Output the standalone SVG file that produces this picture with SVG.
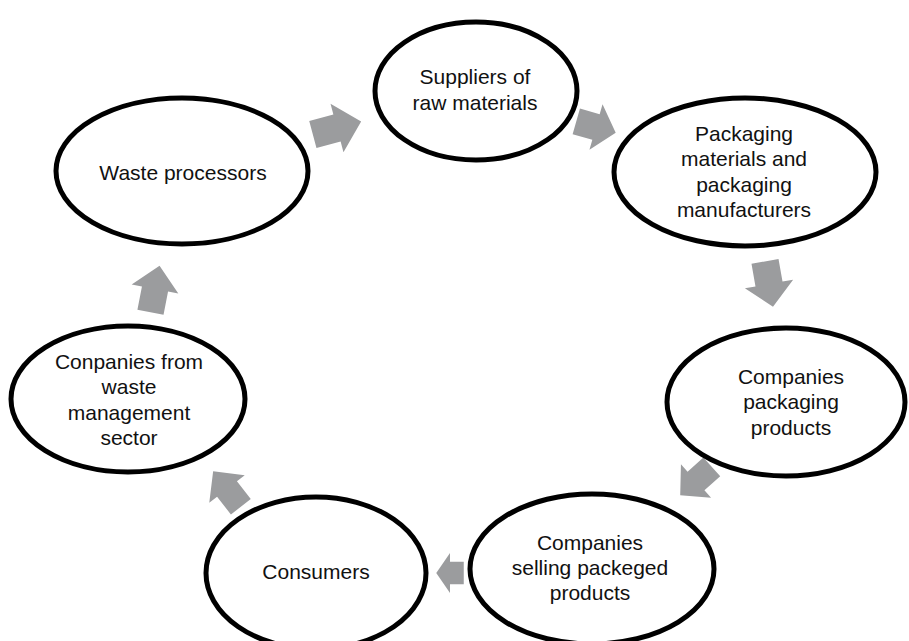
<svg xmlns="http://www.w3.org/2000/svg" width="909" height="641" viewBox="0 0 909 641">
<style>
.n{fill:#fff;stroke:#000;stroke-width:5}
.t{font-family:"Liberation Sans",Arial,sans-serif;font-size:21px;fill:#111;text-anchor:middle}
.a{fill:#9b9c9e}
</style>
<defs>
<polygon id="arr" points="-25,-14 0,-14 0,-25 25,0 0,25 0,14 -25,14"/>
</defs>
<rect width="909" height="641" fill="#fff"/>
<g id="connectors">
<use href="#arr" class="a" transform="translate(337,128) rotate(-15)"/>
<use href="#arr" class="a" transform="translate(596,127) rotate(16) scale(0.82,0.95)"/>
<use href="#arr" class="a" transform="translate(769,284) rotate(80) scale(0.92,0.98)"/>
<use href="#arr" class="a" transform="translate(696,481) rotate(138) scale(0.85,0.9)"/>
<use href="#arr" class="a" transform="translate(450,573) rotate(180) scale(0.55,0.8)"/>
<use href="#arr" class="a" transform="translate(227,489) rotate(-128) scale(0.9,0.9)"/>
<use href="#arr" class="a" transform="translate(155,289) rotate(-79) scale(0.95,0.95)"/>
</g>
<g id="suppliers">
<ellipse class="n" cx="476" cy="91" rx="101" ry="69"/>
<text class="t" x="475" y="84">Suppliers of</text>
<text class="t" x="475" y="110">raw materials</text>
</g>
<g id="packaging">
<ellipse class="n" cx="745" cy="172" rx="131" ry="74"/>
<text class="t" x="744" y="141">Packaging</text>
<text class="t" x="744" y="166">materials and</text>
<text class="t" x="744" y="192">packaging</text>
<text class="t" x="744" y="217">manufacturers</text>
</g>
<g id="companies-packaging">
<ellipse class="n" cx="786" cy="402" rx="119" ry="74"/>
<text class="t" x="791" y="384">Companies</text>
<text class="t" x="791" y="409">packaging</text>
<text class="t" x="791" y="435">products</text>
</g>
<g id="companies-selling">
<ellipse class="n" cx="592" cy="569" rx="122" ry="75"/>
<text class="t" x="590" y="550">Companies</text>
<text class="t" x="590" y="575">selling packeged</text>
<text class="t" x="590" y="600">products</text>
</g>
<g id="consumers">
<ellipse class="n" cx="316" cy="573" rx="110" ry="76"/>
<text class="t" x="316" y="579">Consumers</text>
</g>
<g id="waste-management">
<ellipse class="n" cx="128" cy="399" rx="117" ry="73"/>
<text class="t" x="129" y="369">Conpanies from</text>
<text class="t" x="129" y="394">waste</text>
<text class="t" x="129" y="420">management</text>
<text class="t" x="129" y="445">sector</text>
</g>
<g id="waste-processors">
<ellipse class="n" cx="182" cy="171" rx="126" ry="73"/>
<text class="t" x="183" y="180">Waste processors</text>
</g>
</svg>
